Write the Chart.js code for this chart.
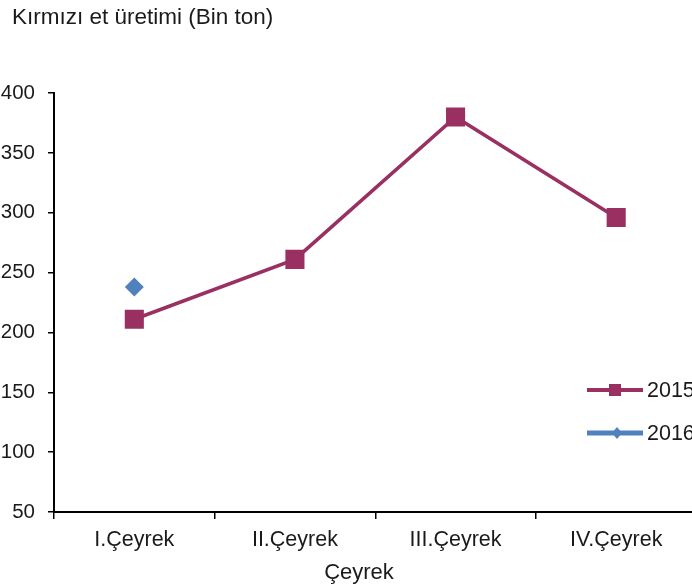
<!DOCTYPE html>
<html>
<head>
<meta charset="utf-8">
<script src="https://cdn.jsdelivr.net/npm/chart.js@4"></script>
<style>
  html, body { margin: 0; padding: 0; background: #fff; overflow: hidden; width: 692px; height: 588px; }
  #wrap { position: absolute; left: -10px; top: 0; width: 720px; height: 588px; }
</style>
</head>
<body>
<div id="wrap"><canvas id="etChart" width="720" height="588"></canvas></div>
<script>
"use strict";

var chartTitle = 'Kırmızı et üretimi (Bin ton)';
var xTitle = 'Çeyrek';
var categories = ['I.Çeyrek', 'II.Çeyrek', 'III.Çeyrek', 'IV.Çeyrek'];
var seriesNames = ['2015', '2016'];
var values2015 = [211, 261, 380, 296];
var values2016 = [238, null, null, null];
var yTicks = [50, 100, 150, 200, 250, 300, 350, 400];

var maroon = '#9a2f62';
var blue = '#4f81bd';
var font = 'Arial, "Liberation Sans"';

// title, x axis title and the line/marker legend drawn on the canvas
var extras = {
    id: 'extras',
    afterDraw: function (chart) {
        var c = chart.ctx;
        c.save();
        c.fillStyle = '#1a1a1a';
        c.textBaseline = 'middle';
        c.textAlign = 'left';
        c.font = '22.5px ' + font;
        c.fillText(chartTitle, 22, 18);

        c.textAlign = 'center';
        c.font = '22px ' + font;
        c.fillText(xTitle, 369, 573);

        var rows = [390, 433];
        c.textAlign = 'left';
        chart.data.datasets.forEach(function (ds, i) {
            var y = rows[i];
            c.strokeStyle = ds.borderColor;
            c.lineWidth = i === 0 ? 4 : 5;
            c.beginPath();
            c.moveTo(597, y);
            c.lineTo(653, y);
            c.stroke();
            c.fillStyle = ds.borderColor;
            c.beginPath();
            if (ds.pointStyle === 'rect') {
                c.rect(619, y - 6, 12, 12);
            } else {
                c.moveTo(627, y - 6);
                c.lineTo(632, y);
                c.lineTo(627, y + 6);
                c.lineTo(622, y);
                c.closePath();
            }
            c.fill();
            c.fillStyle = '#1a1a1a';
            c.font = '21.5px ' + font;
            c.fillText(ds.label, 657, y + 1);
        });
        c.restore();
    }
};

var ctx = document.getElementById('etChart').getContext('2d');
new Chart(ctx, {
    type: 'line',
    data: {
        labels: categories,
        datasets: [{
            label: seriesNames[0],
            data: values2015,
            borderColor: maroon,
            backgroundColor: maroon,
            borderWidth: 3.5,
            pointStyle: 'rect',
            pointRadius: 13.5,
            pointBorderWidth: 0,
            tension: 0
        }, {
            label: seriesNames[1],
            data: values2016,
            borderColor: blue,
            backgroundColor: blue,
            borderWidth: 3,
            pointStyle: 'rectRot',
            pointRadius: 9.5,
            pointBorderWidth: 0,
            spanGaps: false
        }]
    },
    options: {
        responsive: false,
        animation: false,
        layout: { padding: { top: 93, right: 12, left: 0, bottom: 0 } },
        plugins: {
            legend: { display: false },
            tooltip: { enabled: false }
        },
        scales: {
            x: {
                offset: true,
                afterFit: function (scale) { scale.height = 76; },
                grid: { offset: true, drawOnChartArea: false, tickLength: 7, color: '#000', lineWidth: 1.5 },
                border: { display: true, color: '#000', width: 2 },
                ticks: { color: '#1a1a1a', padding: 8, font: { family: font, size: 21.5 } }
            },
            y: {
                min: 50,
                max: 400,
                afterFit: function (scale) { scale.width = 64; },
                afterBuildTicks: function (scale) {
                    scale.ticks = yTicks.map(function (v) { return { value: v }; });
                },
                grid: { drawOnChartArea: false, tickLength: 6, color: '#000', lineWidth: 1.5 },
                border: { display: true, color: '#000', width: 2 },
                ticks: { color: '#1a1a1a', padding: 13, font: { family: font, size: 20.5 } }
            }
        }
    },
    plugins: [extras]
});
</script>
</body>
</html>
